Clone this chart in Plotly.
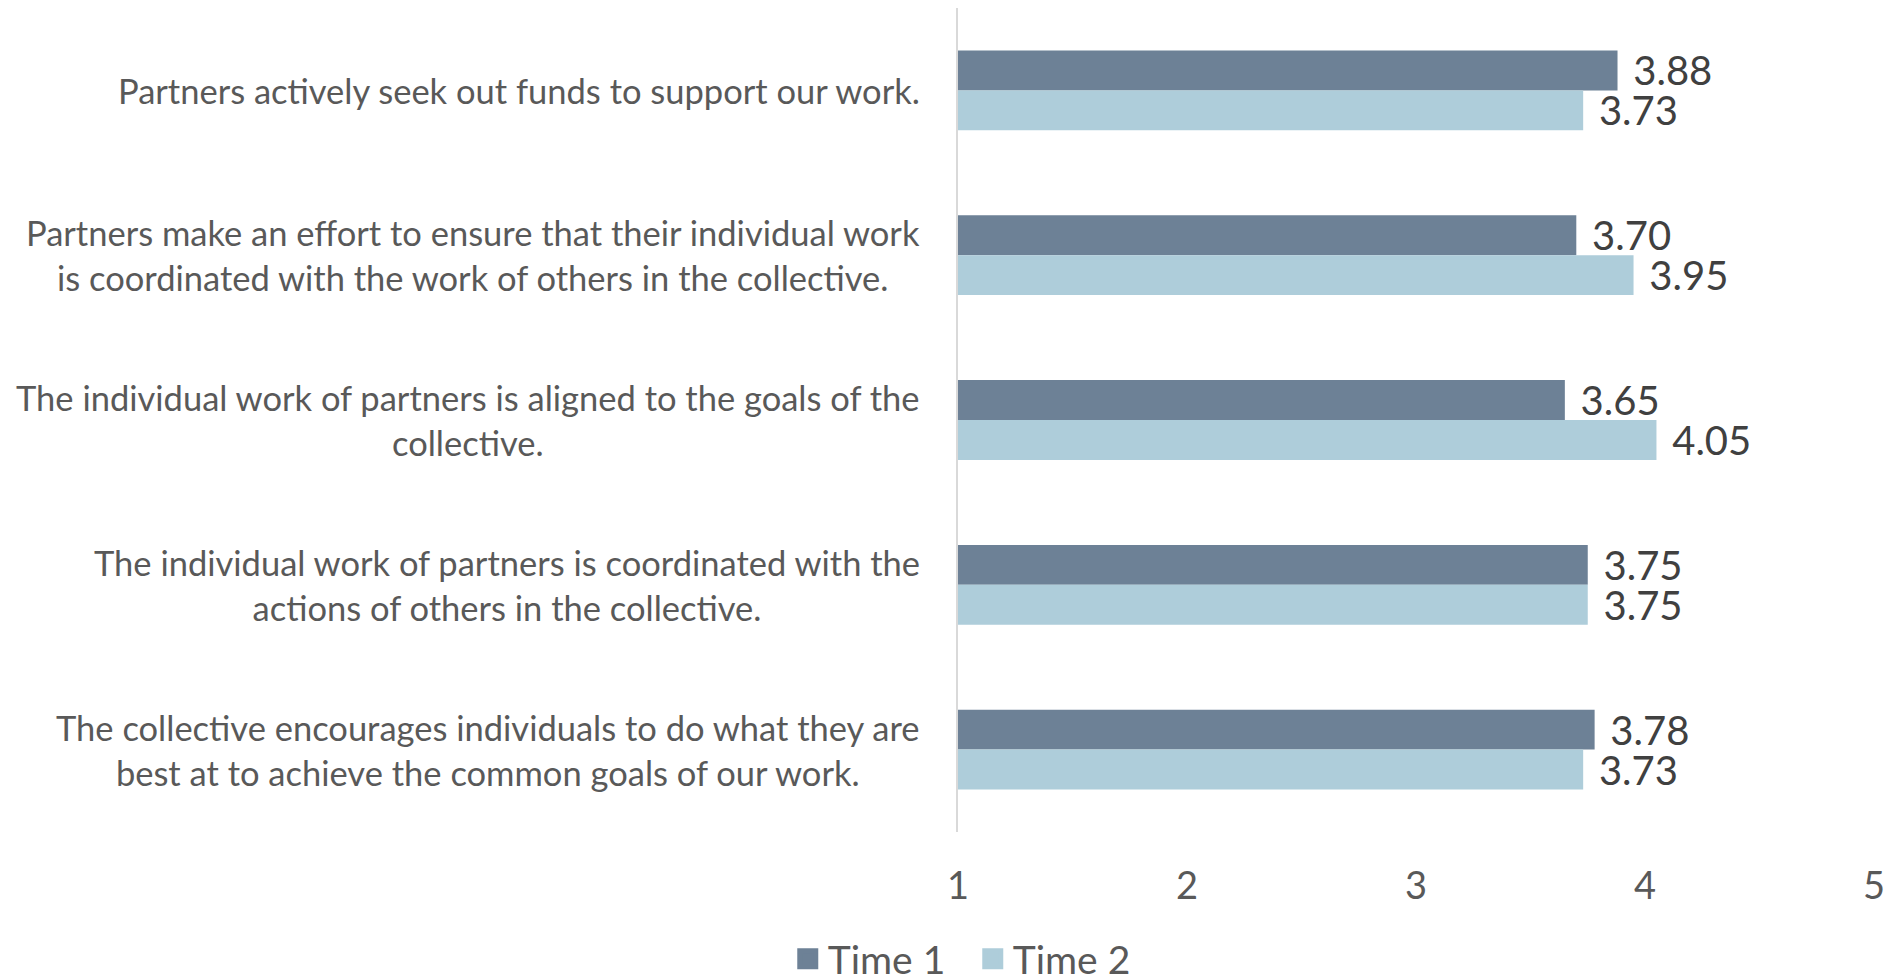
import plotly.graph_objects as go

categories = [
    "Partners actively seek out funds to support our work.",
    "Partners make an effort to ensure that their individual work<br>is coordinated with the work of others in the collective.",
    "The individual work of partners is aligned to the goals of the<br>collective.",
    "The individual work of partners is coordinated with the<br>actions of others in the collective.",
    "The collective encourages individuals to do what they are<br>best at to achieve the common goals of our work.",
]
cat_ids = ["c1", "c2", "c3", "c4", "c5"]
time1 = [3.88, 3.70, 3.65, 3.75, 3.78]
time2 = [3.73, 3.95, 4.05, 3.75, 3.73]
series_names = ["Time 1", "Time 2"]
tick_vals = [1, 2, 3, 4, 5]
tick_text = ["1", "2", "3", "4", "5"]

FONT = "Lato, Carlito, Calibri, sans-serif"
C1 = "#6D8196"
C2 = "#AECDDA"

fig = go.Figure()
for name, vals, col in [(series_names[0], time1, C1), (series_names[1], time2, C2)]:
    fig.add_trace(go.Bar(
        name=name, y=cat_ids, x=vals, orientation="h",
        marker=dict(color=col, line=dict(width=0)),
        text=[f"{v:.2f}" for v in vals],
        texttemplate="\u00a0\u200a%{text}",
        textposition="outside",
        constraintext="none",
        textfont=dict(family=FONT, size=40, color="#404040"),
        cliponaxis=False,
        hoverinfo="skip",
        showlegend=False,
    ))
# legend entries with large square swatches
for name, col in [(series_names[0], C1), (series_names[1], C2)]:
    fig.add_trace(go.Scatter(
        name=name, x=[None], y=[None], mode="markers",
        marker=dict(symbol="square", size=16, color=col,
                    line=dict(color=col, width=5)),
        showlegend=True, hoverinfo="skip",
    ))

for cid, lab in zip(cat_ids, categories):
    fig.add_annotation(
        x=-0.039, xref="paper", y=cid, yref="y",
        text=lab, showarrow=False, xanchor="right", yanchor="middle",
        align="center", font=dict(family=FONT, size=34.5, color="#595959"),
    )

W, H = 1888, 972
fig.update_layout(
    width=W, height=H,
    margin=dict(l=950, r=22, t=0, b=148, pad=0),
    paper_bgcolor="white", plot_bgcolor="white",
    barmode="group", bargap=0.516, bargroupgap=0,
    font=dict(family=FONT, color="#595959"),
    showlegend=True,
    legend=dict(
        orientation="h", xref="container", yref="container",
        x=0.511, y=1 - 951 / H, xanchor="center", yanchor="middle",
        font=dict(family=FONT, size=39, color="#595959"),
        itemwidth=30, traceorder="normal", itemsizing="trace",
        entrywidth=140, entrywidthmode="pixels",
    ),
    xaxis=dict(
        range=[1, 5], tickvals=tick_vals, ticktext=tick_text,
        showgrid=False, zeroline=False, showline=False,
        tickfont=dict(family=FONT, size=38, color="#595959"),
        ticklabelstandoff=28,
    ),
    yaxis=dict(
        type="category", categoryarray=cat_ids, autorange="reversed",
        showticklabels=False, showgrid=False, zeroline=False,
        showline=True, linecolor="#D9D9D9", linewidth=1.5,
    ),
)

fig.write_html("out.html")
